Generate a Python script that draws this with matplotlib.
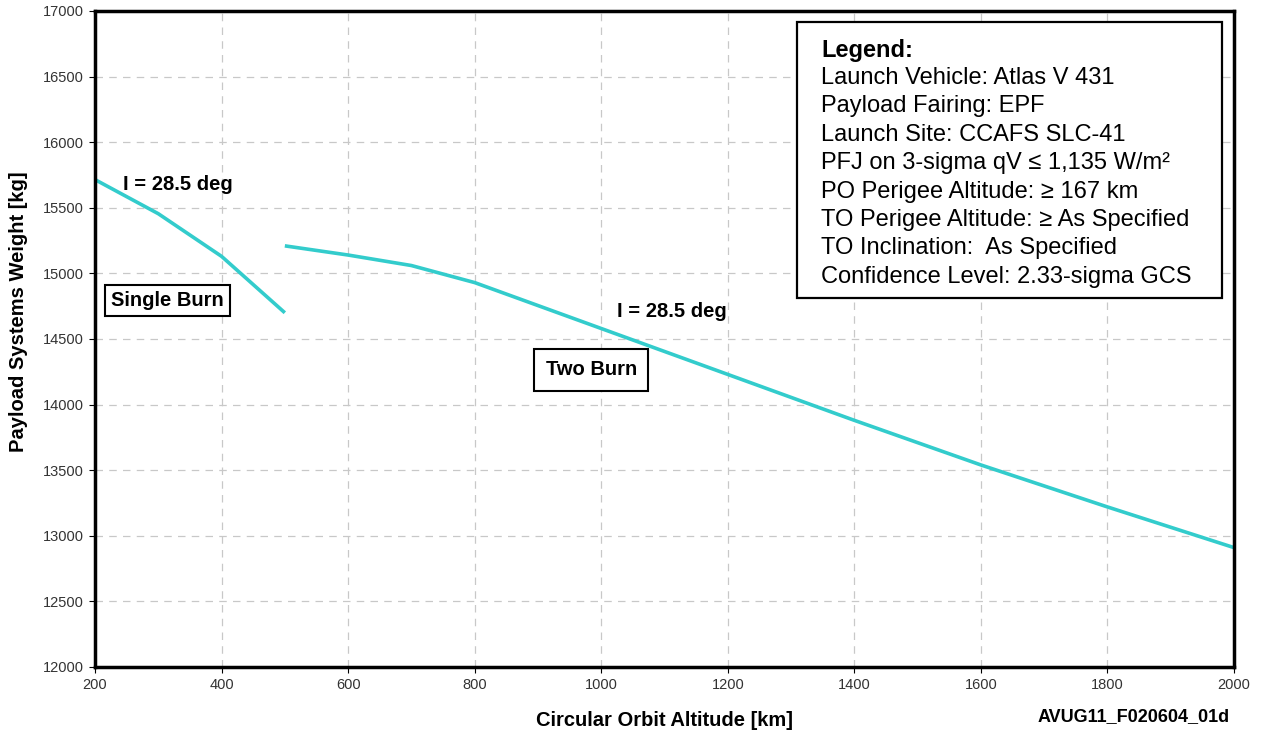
import matplotlib
matplotlib.use("Agg")
import matplotlib.pyplot as plt
from matplotlib.patches import Rectangle

plt.rcParams['font.family'] = ['Liberation Sans', 'DejaVu Sans']

single_alt = [200, 300, 400, 500]
single_wt = [15715, 15455, 15130, 14700]
two_alt = [500, 600, 700, 800, 1000, 1200, 1400, 1600, 1800, 2000]
two_wt = [15210, 15140, 15060, 14930, 14580, 14230, 13880, 13540, 13220, 12910]

xticks = [200, 400, 600, 800, 1000, 1200, 1400, 1600, 1800, 2000]
yticks = list(range(12000, 17001, 500))

legend_title = "Legend:"
legend_lines = ["Launch Vehicle: Atlas V 431",
                "Payload Fairing: EPF",
                "Launch Site: CCAFS SLC-41",
                "PFJ on 3-sigma qV \u2264 1,135 W/m\u00b2",
                "PO Perigee Altitude: \u2265 167 km",
                "TO Perigee Altitude: \u2265 As Specified",
                "TO Inclination:  As Specified",
                "Confidence Level: 2.33-sigma GCS"]

fig = plt.figure(figsize=(12.61, 7.40), dpi=100)
ax = fig.add_axes([95/1261, 73/740, (1234-95)/1261, (667-11)/740])

color = '#33CCCC'
ax.plot(single_alt, single_wt, color=color, lw=2.6, solid_capstyle='butt')
ax.plot(two_alt, two_wt, color=color, lw=2.6, solid_capstyle='butt')

ax.set_xlim(200, 2000)
ax.set_ylim(12000, 17000)
ax.set_xticks(xticks)
ax.set_yticks(yticks)
ax.tick_params(labelsize=10.5, labelcolor='#333333', length=4, width=0.8, pad=4)
ax.grid(True, color='#c8c8c8', linestyle=(0, (6, 5)), lw=0.9)
for s in ax.spines.values():
    s.set_linewidth(2.5)

ax.set_xlabel("Circular Orbit Altitude [km]", fontsize=14.5, fontweight='bold')
ax.xaxis.set_label_coords(0.4996, -(720-667)/656, transform=ax.transAxes)
ax.set_ylabel("Payload Systems Weight [kg]", fontsize=14.5, fontweight='bold')
ax.yaxis.set_label_coords(-(95-19)/1139, (667-312)/656, transform=ax.transAxes)
ax.yaxis.label.set_va('center')
ax.xaxis.label.set_va('center')

ax.text(245, 15681, "I = 28.5 deg", fontsize=14.5, fontweight='bold', ha='left', va='center')
ax.text(1025, 14713, "I = 28.5 deg", fontsize=14.5, fontweight='bold', ha='left', va='center')
ax.text(226, 14790, "Single Burn", fontsize=14.5, fontweight='bold', ha='left', va='center',
        bbox=dict(boxstyle='square,pad=0.3', fc='white', ec='black', lw=1.5))
ax.text(912, 14264, "Two Burn", fontsize=14.5, fontweight='bold', ha='left', va='center',
        bbox=dict(boxstyle='square,pad=0.55', fc='white', ec='black', lw=1.5))

# legend box
fig.patches.append(Rectangle((797/1261, 1-298/740), (1222-797)/1261, (298-22)/740,
                             transform=fig.transFigure, fc='white', ec='black', lw=1.6, zorder=5))
fig.text(821/1261, 1-50/740, legend_title, fontsize=17, fontweight='bold', ha='left', va='center', zorder=6)
for i, t in enumerate(legend_lines):
    fig.text(821/1261, 1-(78+i*28.4)/740, t, fontsize=17, ha='left', va='center', zorder=6)

fig.text(1230/1261, 1-717/740, "AVUG11_F020604_01d", fontsize=13, fontweight='bold', ha='right', va='center')

fig.savefig("out.png", dpi=100)
